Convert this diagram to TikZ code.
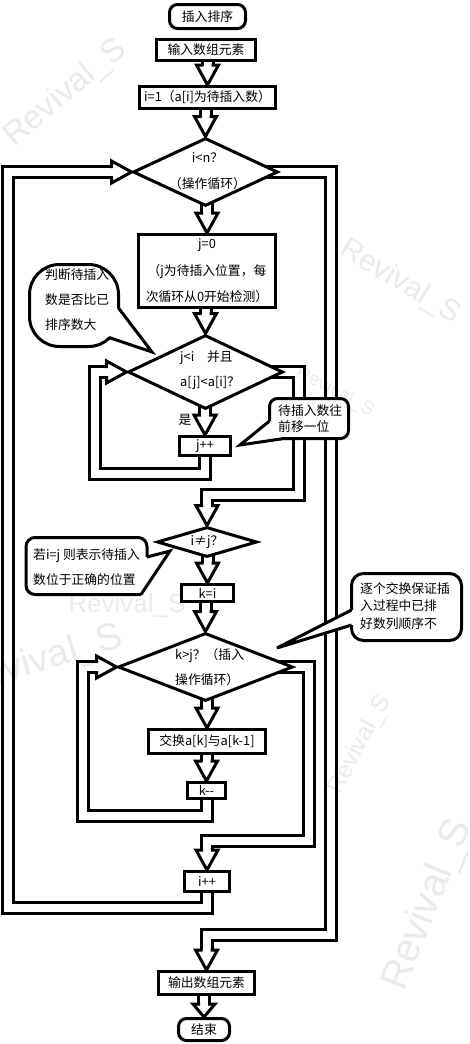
\documentclass[tikz,border=0pt]{standalone}
\usepackage{fontspec}
\setmainfont{Noto Sans CJK SC}
\newfontfamily\wmfont{Liberation Sans}
\usetikzlibrary{shapes.geometric,calc}
\pgfdeclarelayer{bg}
\pgfdeclarelayer{fg}
\pgfsetlayers{bg,main,fg}
\tikzset{
  blk/.style={draw, line width=3pt, fill=white, line join=miter, inner sep=0pt},
  rbox/.style={blk, rectangle},
  term/.style={blk, rectangle, rounded corners=8pt},
  dia/.style={blk, diamond},
  lbl/.style={inner sep=0pt, align=center},
  shaft/.style={draw, line width=3pt, double=white, double distance=8pt, line join=miter},
  hline/.style={draw, line width=3pt, line join=miter, line cap=butt},
  cline/.style={draw, line width=3pt, line join=miter},
  cedge/.style={draw, line width=3pt},
  wm/.style={font=\wmfont\fontsize{#1}{#1}\selectfont, text=black, text opacity=0.08, inner sep=0pt},
  headd/.pic={\draw[hline] (-4,-20) -- (-11,-20) -- (0,0) -- (11,-20) -- (4,-20);},
  heads/.pic={\draw[hline] (-4,-13) -- (-11,-13) -- (0,0) -- (11,-13) -- (4,-13);},
  headr/.pic={\draw[hline] (-20,-4) -- (-20,-11) -- (0,0) -- (-20,11) -- (-20,4);},
}
\begin{document}
\begin{tikzpicture}[x=1pt,y=-1pt, every node/.style={font=\fontsize{12.8}{26}\selectfont}]
\useasboundingbox (0,0) rectangle (469,1044);
\begin{pgfonlayer}{bg}
\fill[white] (0,0) rectangle (469,1044);
\end{pgfonlayer}

% ---------- main nodes ----------
\node[term, minimum width=76pt, minimum height=24pt] (start) at (207.5,16.5) {插入排序};
\node[rbox, minimum width=99pt, minimum height=21pt] (input) at (206,50) {输入数组元素};
\node[rbox, minimum width=136pt, minimum height=22pt] (init) at (207.5,97.5) {i=1（a[i]为待插入数）};
\node[dia, minimum width=145pt, minimum height=68pt] (d1) at (205.5,172) {};
\node[lbl, font=\fontsize{12.8}{26}\selectfont] (t1) at (207.5,171.5) {i<n？\\（操作循环）};
\node[rbox, minimum width=137pt, minimum height=73pt, align=center, font=\fontsize{12.8}{26.5}\selectfont] (j0) at (207,271) {j=0\\（j为待插入位置，每\\次循环从0开始检测）};
\node[dia, minimum width=155pt, minimum height=74pt] (d2) at (205.5,372) {};
\node[lbl, align=left, anchor=west, font=\fontsize{12.8}{25}\selectfont] (t2) at (180,370.5) {j<i\hspace{1em}并且\\a[j]<a[i]？};
\node[lbl] (yes) at (185,420) {是};
\node[rbox, minimum width=51pt, minimum height=19pt] (jpp) at (205,446) {j++};
\node[dia, minimum width=100pt, minimum height=30pt] (d3) at (207,542) {};
\node[lbl] (t3) at (207,542) {i≠j？};
\node[rbox, minimum width=52pt, minimum height=17pt] (ki) at (207.5,593) {k=i};
\node[dia, minimum width=175pt, minimum height=68pt] (d4) at (205.5,667) {};
\node[lbl, align=left, anchor=west, font=\fontsize{12.8}{25}\selectfont] (t4) at (175,667.5) {k>j？（插入\\操作循环）};
\node[rbox, minimum width=117pt, minimum height=24pt] (swap) at (207,741.5) {交换a[k]与a[k-1]};
\node[rbox, minimum width=38pt, minimum height=16pt] (kmm) at (206.5,790.5) {k-{}-};
\node[rbox, minimum width=45pt, minimum height=20pt] (ipp) at (207,881.5) {i++};
\node[rbox, minimum width=96pt, minimum height=23pt] (output) at (206.5,983) {输出数组元素};
\node[term, minimum width=51pt, minimum height=22pt] (endn) at (204,1029.5) {结束};

% ---------- connectors ----------
\begin{pgfonlayer}{bg}
\draw[shaft] (input.center -| init.north) -- ($(init.north)+(0,-20)$);
\pic at (init.north) {headd};
\draw[shaft] (init.center -| d1.north) -- ($(d1.north)+(0,-20)$);
\pic at (d1.north) {headd};
\draw[shaft] (d1.center -| j0.north) -- ($(j0.north)+(0,-20)$);
\pic at (j0.north) {headd};
\draw[shaft] (j0.center -| d2.north) -- ($(d2.north)+(0,-20)$);
\pic at (d2.north) {headd};
\draw[shaft] (d2.center -| jpp.north) -- ($(jpp.north)+(0,-20)$);
\pic at (jpp.north) {headd};
% j loop
\draw[shaft] (jpp.center) -- (jpp.center |- 0,473.5) -- (95,473.5) -- (95,0 |- d2.west) -- ($(d2.west)+(-20,0)$);
\pic at (d2.west) {headr};
% j<i exit
\draw[shaft] (d2.center) -- (298.5,0 |- d2.center) -- (298.5,495) -- (d3.north |- 0,495) -- ($(d3.north)+(0,-20)$);
\pic at (d3.north) {headd};
\draw[shaft] (d3.center -| ki.north) -- ($(ki.north)+(0,-20)$);
\pic at (ki.north) {headd};
\draw[shaft] (ki.center -| d4.north) -- ($(d4.north)+(0,-20)$);
\pic at (d4.north) {headd};
\draw[shaft] (d4.center -| swap.north) -- ($(swap.north)+(0,-20)$);
\pic at (swap.north) {headd};
\draw[shaft] (swap.center -| kmm.north) -- ($(kmm.north)+(0,-20)$);
\pic at (kmm.north) {headd};
% k loop
\draw[shaft] (kmm.center) -- (kmm.center |- 0,816) -- (83,816) -- (83,0 |- d4.west) -- ($(d4.west)+(-20,0)$);
\pic at (d4.west) {headr};
% k>j exit
\draw[shaft] (d4.center) -- (309,0 |- d4.center) -- (309,840.5) -- (ipp.north |- 0,840.5) -- ($(ipp.north)+(0,-20)$);
\pic at (ipp.north) {headd};
% i loop
\draw[shaft] (ipp.center) -- (ipp.center |- 0,907.5) -- (8,907.5) -- (8,0 |- d1.west) -- ($(d1.west)+(-20,0)$);
\pic at (d1.west) {headr};
% i<n exit
\draw[shaft] (d1.center) -- (330.5,0 |- d1.center) -- (330.5,935) -- (output.north |- 0,935) -- ($(output.north)+(0,-20)$);
\pic at (output.north) {headd};
\draw[shaft] (output.center -| endn.north) -- ($(endn.north)+(0,-13)$);
\pic at (endn.north) {heads};
\end{pgfonlayer}

% ---------- callouts ----------
% round bubble callout
\node[blk, rectangle, rounded corners=30pt, minimum width=89pt, minimum height=82pt] (c1) at (74,305.5) {};
\fill[white] (152,352) -- (116,307) -- (107.5,335.5) -- cycle;
\draw[cline] (118.5,308) -- (152,352) -- (109.7,337.7);
\node[lbl, align=left, anchor=west, font=\fontsize{12.8}{25}\selectfont] (c1t) at (45,300) {判断待插入\\数是否比已\\排序数大};

% j++ callout
\fill[white, rounded corners=8pt] (269.5,398.5) rectangle (348.5,438.5);
\fill[white] (240,445) -- (271,420) -- (286,437) -- cycle;
\draw[cedge, rounded corners=8pt] (269.5,421) -- (269.5,398.5) -- (348.5,398.5) -- (348.5,438.5) -- (284,438.5);
\draw[cline] (269.5,421) -- (240,445) -- (284,438.5);
\node[lbl, align=left, anchor=west, font=\fontsize{12.8}{16}\selectfont] (c2t) at (278,419) {待插入数往\\前移一位};

% i!=j callout
\fill[white, rounded corners=9pt] (26,537.5) rectangle (147,594.5);
\fill[white] (170,551) -- (147,556) -- (141,594.5) -- cycle;
\draw[cedge, rounded corners=9pt] (147,557) -- (147,537.5) -- (26,537.5) -- (26,594.5) -- (141,594.5);
\draw[cline] (147,557) -- (170,551) -- (141,594.5);
\node[lbl, align=left, anchor=west, font=\fontsize{12.8}{25}\selectfont] (c3t) at (33,567.5) {若i=j 则表示待插入\\数位于正确的位置};

% k>j callout
\fill[white, rounded corners=12pt] (351.5,573.5) rectangle (461.5,640.5);
\fill[white] (277,648) -- (353,609) -- (353,626) -- cycle;
\draw[cedge, rounded corners=12pt] (351.5,610) -- (351.5,573.5) -- (461.5,573.5) -- (461.5,640.5) -- (351.5,640.5) -- (351.5,625);
\draw[cline] (351.5,610) -- (277,648) -- (351.5,625);
\node[lbl, align=left, anchor=west, font=\fontsize{12.8}{17.5}\selectfont] (c4t) at (360,606) {逐个交换保证插\\入过程中已排\\好数列顺序不};

% ---------- watermarks ----------
\begin{pgfonlayer}{fg}
\node[wm=33, rotate=40] (w1) at (66,93) {Revival\_S};
\node[wm=30, rotate=-31] (w2) at (400,282) {Revival\_S};
\node[wm=19, rotate=-28] (w3) at (335,392) {Revival\_S};
\node[wm=26] (w4) at (127,606) {Revival\_S};
\node[wm=38, rotate=17] (w5) at (40,662) {Revival\_S};
\node[wm=24, rotate=62] (w6) at (360,745) {Revival\_S};
\node[wm=40, rotate=68] (w7) at (428,905) {Revival\_S};
\end{pgfonlayer}
\end{tikzpicture}
\end{document}
